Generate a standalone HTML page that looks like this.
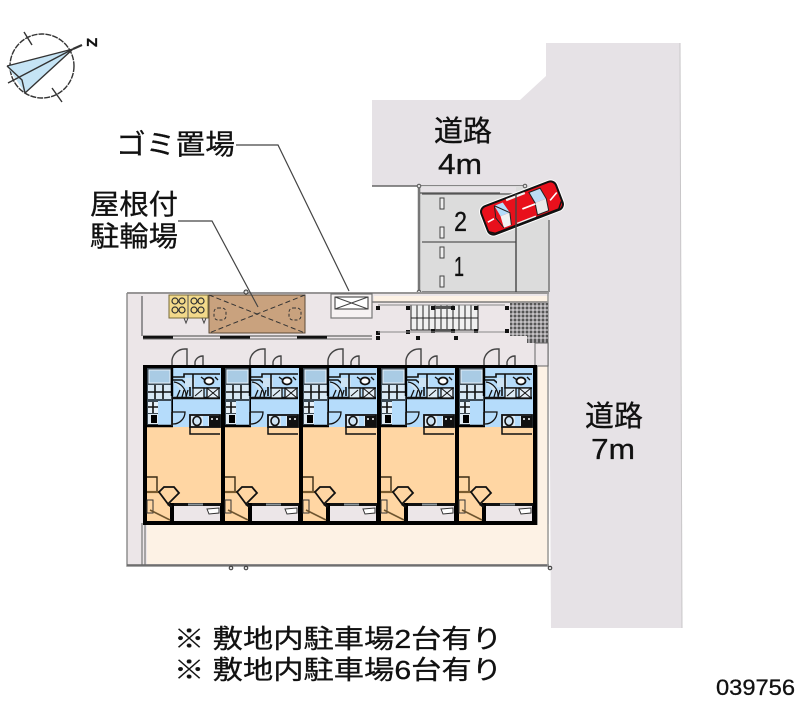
<!DOCTYPE html>
<html><head><meta charset="utf-8"><style>
html,body{margin:0;padding:0;background:#fff}
svg{display:block}
text{font-family:"Liberation Sans","Noto Sans CJK JP",sans-serif;fill:#111;stroke:#111;stroke-width:.3}
</style></head><body>
<svg width="800" height="727" viewBox="0 0 800 727" xmlns="http://www.w3.org/2000/svg">
<defs>
<g id="unit">
  <rect x="0" y="-1" width="78" height="160" fill="#000"/>
  <rect x="30" y="2" width="48" height="59" fill="#b5dcfb"/>
  <rect x="4" y="61" width="74" height="76" fill="#ffd6a3"/>
  <rect x="4" y="137" width="23" height="18" fill="#ffd6a3"/>
  <rect x="31" y="140" width="46" height="15" fill="#ece6e8"/>
  <rect x="27" y="137" width="51" height="3" fill="#111"/>
  <rect x="27" y="137" width="4" height="19" fill="#000"/>
  <rect x="45" y="137.5" width="15" height="2" fill="#8b9499"/>
  <!-- left column -->
  <rect x="4" y="2" width="25" height="57" fill="#3c4a55"/>
  <rect x="6" y="4" width="21" height="13" fill="#a9cbe4" stroke="#e8f2fa" stroke-width="1"/>
  <rect x="5" y="19" width="23" height="14" fill="#d8e8f4"/>
  <path d="M5 26H28M12 19V33M20 19V33" stroke="#111" stroke-width="1.6"/>
  <rect x="5" y="36" width="10" height="11" fill="#e6f0f8"/>
  <path d="M5 41H15M10 36V47" stroke="#111" stroke-width="1.6"/>
  <rect x="15" y="35" width="13" height="24" fill="#b5dcfb"/>
  <rect x="5" y="48" width="10" height="10" fill="#dfeaf3"/>
  <rect x="8" y="49" width="6" height="8" fill="#000"/>
  <path d="M3 60H30" stroke="#000" stroke-width="2.4"/>
  <path d="M29 2V30" stroke="#000" stroke-width="2.4"/>
  <path d="M29 46V60" stroke="#222" stroke-width="1.6"/>
  <!-- bath block -->
  <path d="M30 11H41V8H77" fill="none" stroke="#111" stroke-width="1.6"/>
  <path d="M30 14H39L47 21V30" fill="none" stroke="#111" stroke-width="1.6"/>
  <path d="M31 16A14 14 0 0 1 43 30" fill="#cfe4f4" stroke="#111" stroke-width="1.2"/>
  <rect x="42" y="12" width="10" height="9" fill="#cde3f4"/>
  <path d="M50 8V22H77" fill="none" stroke="#111" stroke-width="1.6"/>
  <ellipse cx="66" cy="15" rx="4.5" ry="3.5" fill="#fff" stroke="#111" stroke-width="1.8"/>
  <path d="M58 11L62 14M72 11L75 14" stroke="#111" stroke-width="1.4"/>
  <path d="M29 32H77" stroke="#111" stroke-width="2.4"/>
  <rect x="50" y="22" width="11" height="10" fill="#dcebf5" stroke="#111" stroke-width="1.3"/>
  <path d="M52 30L59 24" stroke="#111"/>
  <rect x="64" y="22" width="12" height="10" fill="#e4eef6" stroke="#111" stroke-width="1.3"/>
  <path d="M64 22L76 32M76 22L64 32" stroke="#111"/>
  <path d="M34 31L37 24M39 31L41 24M43 31L45 24" stroke="#111" stroke-width="1.3"/>
  <!-- hall door -->
  <path d="M29 46H42A12 12 0 0 1 30 58" fill="none" stroke="#111" stroke-width="1.3"/>
  <!-- kitchen -->
  <rect x="47" y="49" width="30" height="12" fill="#dbeaf5"/>
  <rect x="47" y="49" width="30" height="12" fill="none" stroke="#111" stroke-width="1.8"/>
  <ellipse cx="54" cy="55" rx="4" ry="4.5" fill="#cfe4f4" stroke="#111" stroke-width="1.6"/>
  <rect x="60" y="50" width="5" height="10" fill="#b5dcfb"/>
  <rect x="66" y="50" width="11" height="11" fill="#111"/>
  <circle cx="69" cy="53" r="1" fill="#fff"/><circle cx="74" cy="53" r="1" fill="#fff"/>
  <path d="M47 61V68H77" fill="none" stroke="#111" stroke-width="1.5"/>
  <!-- room fittings -->
  <path d="M4 111H14V126" fill="none" stroke="#3a2c14" stroke-width="1.4"/>
  <path d="M4 126H18" stroke="#7a5c30" stroke-width="2.2"/>
  <path d="M16 126L21 121H31L36 127L25 138Z" fill="#ffd6a3" stroke="#111" stroke-width="1.8"/>
  <path d="M25 138L29 141" stroke="#111" stroke-width="2.6"/>
  <rect x="4" y="134" width="6" height="13" fill="#ffd6a3" stroke="#333" stroke-width="1"/>
  <path d="M7 144L27 154" stroke="#6e5530" stroke-width="1.6"/>
  <path d="M64 143L76 142V147L66 148Z" fill="#fff" stroke="#333"/>
</g>
<g id="door">
  <path d="M0 18V11A13 13 0 0 1 13 0H15V18" fill="#ece6e8" stroke="#444" stroke-width="1.4"/>
  <path d="M23 20V13A8 8 0 0 1 31 7V20" fill="#ece6e8" stroke="#444" stroke-width="1.4"/>
</g>
</defs>

<!-- roads -->
<path d="M372 100H520L546 76V43H680L682 628H551L549 292V186H372Z" fill="#e6e2e6"/>
<path d="M680 43L682 628" stroke="#c8c6c8"/>
<path d="M372 186H525" stroke="#666" stroke-width="1.4"/>

<!-- parking -->
<rect x="420" y="186" width="129" height="108" fill="#dcdcdc"/>
<rect x="421" y="187" width="95" height="6" fill="#e6e2e6"/>
<path d="M419 186V292" stroke="#777" stroke-width="2.5"/>
<path d="M422 194H516M422 242H516M422 292H548" fill="none" stroke="#555" stroke-width="1.3"/>
<path d="M549 220V292" stroke="#777" stroke-width="1.5"/>
<rect x="440" y="198" width="4" height="11" fill="#eee" stroke="#444"/>
<rect x="440" y="227" width="4" height="11" fill="#eee" stroke="#444"/>
<rect x="440" y="247" width="4" height="11" fill="#eee" stroke="#444"/>
<rect x="440" y="276" width="4" height="11" fill="#eee" stroke="#444"/>
<circle cx="419" cy="186" r="1.8" fill="#ddd" stroke="#555"/>
<circle cx="525" cy="186" r="1.8" fill="#ddd" stroke="#555"/>
<circle cx="419" cy="292" r="1.8" fill="#ddd" stroke="#555"/>

<!-- site -->
<rect x="127" y="292" width="422" height="274" fill="#ece6e8"/>
<rect x="147" y="524" width="402" height="40" fill="#fdf2e5"/>
<rect x="537" y="366" width="11" height="158" fill="#fdf2e5"/>
<rect x="374" y="296" width="175" height="6" fill="#fdf2e5"/>
<path d="M127 293H549M372 302H548M142 296V336M143 336H372" stroke="#666" stroke-width="1.3" fill="none"/>
<path d="M127 293V566H549M142 523V565M145 523V565" fill="none" stroke="#888" stroke-width="1.4"/>
<path d="M127 565H549" stroke="#666" stroke-width="1.6"/>
<path d="M548 292V566" stroke="#999" stroke-width="1.5"/>
<path d="M537 345V525" stroke="#777" stroke-width="1.4"/>
<rect x="143" y="336" width="30" height="3" fill="#111"/>
<rect x="220" y="336" width="30" height="3" fill="#111"/>
<rect x="297" y="336" width="30" height="3" fill="#111"/>
<path d="M143 339H372" stroke="#666"/>
<circle cx="246" cy="292" r="2" fill="#ddd" stroke="#333"/>
<circle cx="231" cy="568" r="1.8" fill="#ddd" stroke="#333"/>
<circle cx="246" cy="568" r="1.8" fill="#ddd" stroke="#333"/>
<circle cx="550" cy="568" r="1.8" fill="#ddd" stroke="#333"/>

<!-- bike shelter -->
<rect x="169" y="295" width="39" height="23" fill="#f2d98a" stroke="#776a3a"/>
<g fill="none" stroke="#333" stroke-width="1.2">
<circle cx="175" cy="301" r="3"/><circle cx="182" cy="301" r="3"/><circle cx="175" cy="310" r="3"/><circle cx="182" cy="310" r="3"/>
<circle cx="194" cy="301" r="3"/><circle cx="201" cy="301" r="3"/><circle cx="194" cy="310" r="3"/><circle cx="201" cy="310" r="3"/>
</g>
<path d="M188 295V318" stroke="#555"/>
<path d="M184 318L186 323L188 318M202 318L204 323L206 318" fill="none" stroke="#444"/>
<rect x="209" y="295" width="96" height="38" fill="#c9a27e" stroke="#5a4a38"/>
<path d="M209 295L305 333M305 295L209 333" stroke="#333" stroke-width="1" stroke-dasharray="5 3"/>
<rect x="214" y="308" width="12" height="12" rx="4" fill="none" stroke="#333" stroke-dasharray="3 2"/>
<rect x="289" y="308" width="12" height="12" rx="4" fill="none" stroke="#333" stroke-dasharray="3 2"/>

<!-- garbage -->
<rect x="331" y="294" width="41" height="24" fill="#f6f2f2" stroke="#777" stroke-width="1.2"/>
<rect x="335" y="297" width="33" height="12" fill="#fff" stroke="#333"/>
<path d="M335 297L368 309M368 297L335 309" stroke="#444"/>

<!-- stairs -->
<rect x="411" y="305" width="67" height="25" fill="#f0f0f0"/>
<path d="M411 305H478V330H411ZM417 305V330M423 305V330M429 305V330M435 305V330M441 305V330M447 305V330M453 305V330M459 305V330M465 305V330M471 305V330M411 318H478" fill="none" stroke="#222"/>
<rect x="431" y="306" width="20" height="3" fill="#555"/>
<rect x="434" y="329" width="20" height="3" fill="#555"/>
<g fill="#111">
<rect x="376" y="306" width="4" height="4"/><rect x="376" y="331" width="4" height="4"/><rect x="376" y="336" width="4" height="4"/>
<rect x="406" y="306" width="4" height="4"/><rect x="406" y="330" width="4" height="4"/>
<rect x="431" y="306" width="4" height="4"/><rect x="451" y="306" width="4" height="4"/><rect x="474" y="306" width="4" height="4"/>
<rect x="431" y="329" width="4" height="4"/><rect x="451" y="329" width="4" height="4"/><rect x="474" y="329" width="4" height="4"/>
<rect x="505" y="306" width="4" height="4"/><rect x="505" y="329" width="4" height="4"/>
<rect x="416" y="336" width="4" height="4"/><rect x="454" y="336" width="4" height="4"/>
</g>
<path d="M378 305H505M378 332H505" stroke="#888"/>
<!-- grid area -->
<rect x="510" y="303" width="38" height="40" fill="#555"/>
<path d="M510 306H548M510 310H548M510 314H548M510 318H548M510 322H548M510 326H548M510 330H548M510 334H548M510 338H548M513 303V343M517 303V343M521 303V343M525 303V343M529 303V343M533 303V343M537 303V343M541 303V343M545 303V343" stroke="#e8e4e8" stroke-width="1"/>
<rect x="510" y="336" width="17" height="8" fill="#ece6e8"/>
<rect x="535" y="343" width="13" height="23" fill="#ece6e8" stroke="#666"/>
<path d="M535 366H548" stroke="#666"/>

<!-- doors -->
<use href="#door" x="172" y="349"/>
<use href="#door" x="250" y="349"/>
<use href="#door" x="328" y="349"/>
<use href="#door" x="406" y="349"/>
<use href="#door" x="484" y="349"/>

<!-- units -->
<use href="#unit" x="143" y="366"/>
<use href="#unit" x="221" y="366"/>
<use href="#unit" x="299" y="366"/>
<use href="#unit" x="377" y="366"/>
<use href="#unit" x="455" y="366"/>
<rect x="533" y="365" width="4" height="160" fill="#000"/>

<!-- car -->
<g transform="translate(522 208) rotate(-21)">
<rect x="-42" y="-17" width="84" height="34" rx="8" fill="#fff"/>
<rect x="-40" y="-15" width="80" height="30" rx="6" fill="#e8101c" stroke="#111" stroke-width="2"/>
<path d="M-25 -12L-16 -12L-13 0L-23 0Z" fill="#b5dcfb"/>
<path d="M-23 0L-13 0L-16 12L-24 12Z" fill="#f2f2f2"/>
<path d="M-25 -12L-13 0L-16 12M-25 -12L-28 0L-24 12" fill="none" stroke="#222" stroke-width="1"/>
<path d="M12 -12L24 -12L26 0L14 0Z" fill="#bcdcf5"/>
<path d="M14 0L26 0L24 12L12 12Z" fill="#eaeaea"/>
<path d="M12 -12H24L26 0L24 12H12L14 0Z" fill="none" stroke="#222"/>
<path d="M-12 -13H8M-10 13H10" stroke="#f2f2f2" stroke-width="2.2"/>
<path d="M0 1H14" stroke="#fff" stroke-width="1.8"/>
<path d="M-37 1L-30 0M29 3L38 -2" stroke="#fff" stroke-width="1.6"/>
<path d="M-40 10L-34 14L34 14L39 8" fill="none" stroke="#111" stroke-width="1.4"/>
</g>
<path d="M516 194V292" stroke="#444" stroke-width="1.4"/>
<path d="M420 193H500" stroke="#555" stroke-width="1.2"/>

<!-- compass -->
<g fill="none" stroke="#333" stroke-width="1.4">
<circle cx="42" cy="66" r="32" stroke-dasharray="6 1"/>
<path d="M7 66L73 49L25 93Z" fill="#c5e4f5" stroke="none"/>
<path d="M7 66L73 49L25 93M8 83L73 49M7 66L22 80L25 93"/>
<path d="M24 32L32 45M52 88L62 102"/>
<path d="M73 49L82 45" stroke-width="2.2"/>
</g>
<text x="85" y="47" font-size="15" font-weight="bold" transform="rotate(-90 91 41)">Z</text>

<!-- leaders -->
<path d="M236 145H278L349 291" fill="none" stroke="#444" stroke-width="1.2"/>
<path d="M178 221H212L258 307" fill="none" stroke="#444" stroke-width="1.2"/>

<!-- labels -->
<text x="116" y="154" font-size="28" textLength="119" lengthAdjust="spacingAndGlyphs">ゴミ置場</text>
<text x="90" y="214" font-size="28" textLength="88" lengthAdjust="spacingAndGlyphs">屋根付</text>
<text x="90" y="246" font-size="28" textLength="88" lengthAdjust="spacingAndGlyphs">駐輪場</text>
<text x="434" y="141" font-size="29" textLength="58" lengthAdjust="spacingAndGlyphs">道路</text>
<text x="438" y="174" font-size="29" textLength="44" lengthAdjust="spacingAndGlyphs">4m</text>
<text x="585" y="426" font-size="29" textLength="58" lengthAdjust="spacingAndGlyphs">道路</text>
<text x="591" y="459" font-size="29" textLength="44" lengthAdjust="spacingAndGlyphs">7m</text>
<text x="454" y="231" font-size="28" textLength="13" lengthAdjust="spacingAndGlyphs">2</text>
<text x="454" y="276" font-size="28" textLength="10" lengthAdjust="spacingAndGlyphs">1</text>
<text x="174" y="648" font-size="26" textLength="328" lengthAdjust="spacingAndGlyphs">※ 敷地内駐車場2台有り</text>
<text x="174" y="679" font-size="26" textLength="328" lengthAdjust="spacingAndGlyphs">※ 敷地内駐車場6台有り</text>
<text x="716" y="695" font-size="22" textLength="79" lengthAdjust="spacingAndGlyphs">039756</text>
</svg>
</body></html>
